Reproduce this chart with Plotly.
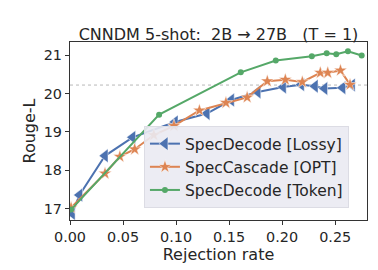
import plotly.graph_objects as go

lossy_x = [0.002, 0.009, 0.033, 0.059, 0.099, 0.129, 0.152, 0.177, 0.201, 0.218, 0.231, 0.240, 0.257, 0.266]
lossy_y = [16.88, 17.36, 18.38, 18.86, 19.26, 19.48, 19.83, 20.04, 20.17, 20.23, 20.19, 20.13, 20.15, 20.22]

opt_x = [0.001, 0.033, 0.047, 0.061, 0.079, 0.098, 0.122, 0.147, 0.167, 0.186, 0.203, 0.219, 0.236, 0.243, 0.255, 0.264]
opt_y = [17.03, 17.92, 18.36, 18.55, 18.92, 19.16, 19.56, 19.76, 19.90, 20.32, 20.36, 20.30, 20.54, 20.54, 20.60, 20.23]

tok_x = [0.001, 0.084, 0.161, 0.194, 0.228, 0.242, 0.251, 0.262, 0.275]
tok_y = [16.98, 19.45, 20.55, 20.86, 20.97, 21.05, 21.02, 21.10, 20.99]

ref_y = 20.22

xticks = [0.0, 0.05, 0.10, 0.15, 0.20, 0.25]
xtick_labels = ["0.00", "0.05", "0.10", "0.15", "0.20", "0.25"]
yticks = [17, 18, 19, 20, 21]

BLUE = "#4c72b0"
ORANGE = "#dd8452"
GREEN = "#55a868"
FONT = "DejaVu Sans"

fig = go.Figure()
fig.add_trace(go.Scatter(
    x=lossy_x, y=lossy_y, mode="lines+markers", name="SpecDecode [Lossy]",
    line=dict(color=BLUE, width=2),
    marker=dict(symbol="triangle-left", size=12, color=BLUE, line=dict(color="white", width=0.5))))
fig.add_trace(go.Scatter(
    x=opt_x, y=opt_y, mode="lines+markers", name="SpecCascade [OPT]",
    line=dict(color=ORANGE, width=2),
    marker=dict(symbol="star", size=10, color=ORANGE, line=dict(color="white", width=0.5))))
fig.add_trace(go.Scatter(
    x=tok_x, y=tok_y, mode="lines+markers", name="SpecDecode [Token]",
    line=dict(color=GREEN, width=2),
    marker=dict(symbol="circle", size=6, color=GREEN)))

fig.add_shape(type="line", xref="paper", x0=0, x1=1, yref="y", y0=ref_y, y1=ref_y,
              line=dict(color="#b8b8b8", width=1, dash="dot"), layer="below")

fig.update_layout(
    width=378, height=270,
    margin=dict(l=62, r=19, t=34, b=58),
    paper_bgcolor="white", plot_bgcolor="white",
    font=dict(family=FONT, size=14, color="#262626"),
    title=dict(text="CNNDM 5-shot:\u00a0\u00a02B → 27B\u00a0\u00a0\u00a0(T = 1)",
               x=0.5, xref="paper", xanchor="center", y=1, yref="paper", yanchor="bottom",
               pad=dict(b=2), font=dict(size=16, family=FONT, color="#262626")),
    showlegend=True,
    legend=dict(x=0.249, y=0.067, xanchor="left", yanchor="bottom",
                bgcolor="rgba(234,234,242,0.9)", bordercolor="#dcdce4", borderwidth=1,
                font=dict(size=15.5, family=FONT, color="#262626"),
                tracegroupgap=0, itemwidth=30, entrywidth=175, entrywidthmode="pixels"),
)
fig.update_xaxes(range=[0, 0.28], tickvals=xticks, ticktext=xtick_labels,
                 showgrid=False, zeroline=False, showline=True, mirror=True,
                 linecolor="#333333", linewidth=1.2, ticks="outside", ticklen=4,
                 tickcolor="#333333", tickfont=dict(size=14.4),
                 title=dict(text="Rejection rate", font=dict(size=16), standoff=2))
fig.update_yaxes(range=[16.71, 21.34], tickvals=yticks,
                 showgrid=False, zeroline=False, showline=True, mirror=True,
                 linecolor="#333333", linewidth=1.2, ticks="outside", ticklen=4,
                 tickcolor="#333333", tickfont=dict(size=14.4),
                 title=dict(text="Rouge-L", font=dict(size=16), standoff=4))

fig.write_html("out.html")
